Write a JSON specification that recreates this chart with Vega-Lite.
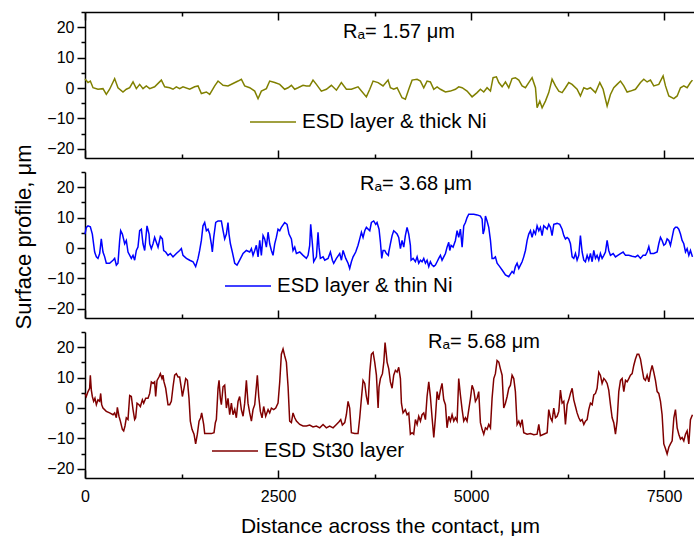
{
  "$schema": "https://vega.github.io/schema/vega-lite/v6.json",
  "autosize": {"type": "pad"},
  "padding": {"left": 12, "top": 4, "right": 0, "bottom": 0},
  "spacing": 5,
  "title": {"text": "Surface profile, μm", "orient": "left", "anchor": "middle", "fontSize": 22, "offset": -6, "baseline": "alphabetic", "frame": "bounds", "dx": 33},
  "datasets": {
    "thick": [
      {"x":0,"y":3.0},{"x":39,"y":1.8},{"x":69,"y":2.3},{"x":104,"y":0.1},{"x":168,"y":-0.4},{"x":233,"y":-0.2},{"x":276,"y":-2.1},{"x":319,"y":-0.4},{"x":384,"y":3.1},{"x":427,"y":0.1},{"x":492,"y":-1.3},{"x":535,"y":-0.4},{"x":579,"y":0.1},{"x":622,"y":2.0},{"x":665,"y":-0.2},{"x":708,"y":1.2},{"x":751,"y":-0.2},{"x":794,"y":0.7},{"x":838,"y":-0.2},{"x":902,"y":0.4},{"x":989,"y":2.6},{"x":1032,"y":0.4},{"x":1097,"y":0.1},{"x":1140,"y":-0.4},{"x":1183,"y":0.4},{"x":1226,"y":-0.2},{"x":1269,"y":0.4},{"x":1356,"y":-0.4},{"x":1420,"y":0.4},{"x":1464,"y":0.7},{"x":1507,"y":-1.8},{"x":1572,"y":-1.3},{"x":1615,"y":-2.1},{"x":1680,"y":0.7},{"x":1723,"y":2.3},{"x":1788,"y":0.9},{"x":1852,"y":0.7},{"x":1917,"y":1.5},{"x":1982,"y":2.3},{"x":2025,"y":2.9},{"x":2068,"y":0.7},{"x":2133,"y":0.1},{"x":2198,"y":-1.0},{"x":2241,"y":-3.5},{"x":2284,"y":-1.0},{"x":2349,"y":-0.2},{"x":2392,"y":2.3},{"x":2457,"y":1.8},{"x":2522,"y":1.2},{"x":2586,"y":-0.4},{"x":2630,"y":0.1},{"x":2673,"y":0.9},{"x":2716,"y":-0.4},{"x":2759,"y":0.1},{"x":2824,"y":0.9},{"x":2867,"y":0.7},{"x":2910,"y":0.7},{"x":2953,"y":2.6},{"x":2997,"y":1.2},{"x":3061,"y":-1.0},{"x":3126,"y":-0.4},{"x":3191,"y":0.9},{"x":3256,"y":-0.7},{"x":3320,"y":1.8},{"x":3385,"y":-0.4},{"x":3450,"y":-0.4},{"x":3536,"y":0.4},{"x":3580,"y":-1.0},{"x":3644,"y":-2.9},{"x":3688,"y":-0.4},{"x":3731,"y":2.3},{"x":3796,"y":1.8},{"x":3860,"y":0.7},{"x":3925,"y":2.6},
      {"x":3955,"y":0.1},{"x":3998,"y":-0.4},{"x":4042,"y":0.1},{"x":4106,"y":-3.2},{"x":4149,"y":-3.7},{"x":4193,"y":-0.4},{"x":4236,"y":2.6},{"x":4301,"y":2.9},{"x":4344,"y":2.3},{"x":4387,"y":0.1},{"x":4430,"y":2.3},{"x":4473,"y":2.0},{"x":4517,"y":-0.4},{"x":4560,"y":0.4},{"x":4603,"y":-0.4},{"x":4668,"y":-1.3},{"x":4732,"y":-1.0},{"x":4797,"y":-0.4},{"x":4840,"y":0.4},{"x":4884,"y":0.1},{"x":4948,"y":-1.0},{"x":5013,"y":-2.9},{"x":5078,"y":-1.5},{"x":5121,"y":-0.4},{"x":5164,"y":-1.3},{"x":5207,"y":0.1},{"x":5251,"y":-1.0},{"x":5285,"y":3.4},{"x":5328,"y":3.7},{"x":5359,"y":1.8},{"x":5402,"y":0.4},{"x":5445,"y":2.0},{"x":5488,"y":0.1},{"x":5531,"y":3.1},{"x":5574,"y":3.4},{"x":5618,"y":2.6},{"x":5661,"y":0.7},{"x":5704,"y":0.1},{"x":5747,"y":1.8},{"x":5790,"y":3.4},{"x":5834,"y":0.1},{"x":5855,"y":-6.5},{"x":5890,"y":-4.3},{"x":5920,"y":-6.5},{"x":5963,"y":-4.3},{"x":6006,"y":-1.5},{"x":6049,"y":2.9},{"x":6093,"y":0.7},{"x":6136,"y":-1.0},{"x":6179,"y":-1.5},{"x":6222,"y":0.1},{"x":6265,"y":1.8},{"x":6308,"y":1.2},{"x":6373,"y":-0.4},{"x":6416,"y":-2.6},{"x":6460,"y":0.1},{"x":6503,"y":-0.4},{"x":6546,"y":0.1},{"x":6611,"y":-1.5},{"x":6667,"y":1.8},{"x":6710,"y":-0.4},{"x":6762,"y":-5.9},{"x":6805,"y":-2.1},{"x":6848,"y":0.1},{"x":6891,"y":1.2},{"x":6935,"y":2.3},{"x":6978,"y":0.7},{"x":7021,"y":-1.3},{"x":7064,"y":-1.0},{"x":7129,"y":-0.4},{"x":7194,"y":1.8},{"x":7237,"y":2.9},{"x":7280,"y":2.0},{"x":7323,"y":2.6},{"x":7366,"y":0.7},{"x":7431,"y":1.2},{"x":7487,"y":4.0},{"x":7518,"y":0.7},{"x":7561,"y":-2.6},{"x":7626,"y":-3.5},{"x":7669,"y":-2.6},{"x":7712,"y":0.1},{"x":7755,"y":0.7},{"x":7798,"y":0.1},{"x":7841,"y":1.8},{"x":7867,"y":2.6}
    ],
    "thin": [
      {"x":0,"y":4.6},{"x":17,"y":6.8},{"x":39,"y":7.3},{"x":69,"y":7.0},{"x":95,"y":4.6},{"x":125,"y":-1.3},{"x":147,"y":-2.9},{"x":168,"y":-3.4},{"x":190,"y":-1.8},{"x":211,"y":3.0},{"x":233,"y":-1.3},{"x":255,"y":-2.9},{"x":276,"y":-5.0},{"x":319,"y":-5.0},{"x":363,"y":-4.0},{"x":384,"y":-3.4},{"x":406,"y":-5.6},{"x":427,"y":-5.0},{"x":449,"y":2.5},{"x":462,"y":5.7},{"x":484,"y":4.6},{"x":514,"y":1.4},{"x":535,"y":2.5},{"x":557,"y":-1.3},{"x":600,"y":-3.4},{"x":622,"y":-2.4},{"x":643,"y":-4.0},{"x":665,"y":-0.8},{"x":686,"y":0.3},{"x":708,"y":5.7},{"x":730,"y":6.2},{"x":751,"y":1.4},{"x":773,"y":-0.8},{"x":803,"y":7.3},{"x":829,"y":4.6},{"x":838,"y":1.4},{"x":859,"y":-0.2},{"x":881,"y":1.4},{"x":902,"y":3.5},{"x":924,"y":1.9},{"x":946,"y":0.3},{"x":976,"y":3.8},{"x":1002,"y":3.0},{"x":1019,"y":-0.8},{"x":1045,"y":-1.3},{"x":1075,"y":-2.4},{"x":1105,"y":-1.8},{"x":1140,"y":-2.9},{"x":1183,"y":-1.8},{"x":1226,"y":-0.8},{"x":1248,"y":-0.2},{"x":1269,"y":-2.4},{"x":1313,"y":-3.4},{"x":1356,"y":-4.0},{"x":1399,"y":-4.5},{"x":1433,"y":-6.1},{"x":1464,"y":-3.4},{"x":1485,"y":-0.8},{"x":1507,"y":2.5},{"x":1528,"y":7.3},{"x":1550,"y":8.4},{"x":1572,"y":5.7},{"x":1593,"y":6.2},{"x":1615,"y":4.6},{"x":1636,"y":1.4},{"x":1649,"y":-1.3},{"x":1667,"y":3.5},{"x":1693,"y":8.4},{"x":1723,"y":8.9},{"x":1766,"y":8.9},{"x":1788,"y":5.7},{"x":1809,"y":3.0},{"x":1831,"y":4.6},{"x":1852,"y":8.4},{"x":1865,"y":4.6},{"x":1883,"y":1.4},{"x":1908,"y":-1.3},{"x":1939,"y":-5.0},{"x":1969,"y":-5.6},{"x":2003,"y":-4.0},{"x":2047,"y":-1.8},{"x":2090,"y":-0.8},{"x":2133,"y":-1.3},{"x":2155,"y":-0.2},{"x":2176,"y":-2.4},{"x":2198,"y":-0.8},{"x":2219,"y":0.9},{"x":2241,"y":-2.9},{"x":2263,"y":2.5},{"x":2284,"y":-2.4},{"x":2306,"y":4.1},{"x":2327,"y":3.0},{"x":2349,"y":0.3},{"x":2371,"y":5.2},{"x":2392,"y":1.4},{"x":2414,"y":-0.8},{"x":2435,"y":-2.4},{"x":2457,"y":1.4},{"x":2478,"y":3.5},{"x":2500,"y":6.2},{"x":2522,"y":5.7},{"x":2543,"y":6.8},{"x":2586,"y":8.4},{"x":2617,"y":7.8},{"x":2642,"y":4.6},{"x":2673,"y":3.0},{"x":2694,"y":-0.8},{"x":2716,"y":0.3},{"x":2738,"y":-1.8},{"x":2781,"y":-1.3},{"x":2824,"y":-2.4},{"x":2867,"y":-3.4},{"x":2889,"y":-2.4},{"x":2910,"y":0.9},{"x":2923,"y":7.8},{"x":2945,"y":1.4},{"x":2962,"y":-4.5},{"x":2997,"y":-2.9},{"x":3018,"y":5.2},{"x":3031,"y":0.3},{"x":3048,"y":-3.4},{"x":3083,"y":-2.9},{"x":3105,"y":-4.0},{"x":3148,"y":-3.4},{"x":3178,"y":-1.3},{"x":3204,"y":-4.0},{"x":3221,"y":-5.0},{"x":3256,"y":-3.4},{"x":3299,"y":-1.8},{"x":3321,"y":-4.0},{"x":3342,"y":-0.8},{"x":3377,"y":-3.4},{"x":3407,"y":-5.0},{"x":3428,"y":-6.7},{"x":3450,"y":-4.5},{"x":3472,"y":-2.9},{"x":3506,"y":-1.3},{"x":3536,"y":0.9},{"x":3558,"y":3.0},{"x":3580,"y":5.2},{"x":3601,"y":3.5},{"x":3623,"y":5.7},{"x":3644,"y":6.8},{"x":3688,"y":5.7},{"x":3709,"y":8.4},{"x":3739,"y":8.9},{"x":3765,"y":7.8},{"x":3782,"y":8.4},{"x":3808,"y":6.2},{"x":3826,"y":1.9},{"x":3843,"y":-3.4},{"x":3860,"y":-0.8},{"x":3882,"y":-0.8},{"x":3903,"y":-1.8},{"x":3929,"y":-2.4},
      {"x":3934,"y":-1.3},{"x":3955,"y":1.4},{"x":3977,"y":4.1},{"x":3998,"y":5.7},{"x":4020,"y":5.2},{"x":4042,"y":4.6},{"x":4063,"y":3.5},{"x":4085,"y":-0.2},{"x":4106,"y":2.5},{"x":4128,"y":0.3},{"x":4149,"y":4.1},{"x":4171,"y":6.8},{"x":4193,"y":4.6},{"x":4214,"y":0.9},{"x":4223,"y":-4.0},{"x":4249,"y":-3.4},{"x":4279,"y":-4.5},{"x":4301,"y":-2.9},{"x":4322,"y":-5.0},{"x":4344,"y":-4.0},{"x":4365,"y":-4.5},{"x":4387,"y":-3.4},{"x":4409,"y":-5.0},{"x":4430,"y":-4.0},{"x":4452,"y":-6.1},{"x":4473,"y":-4.5},{"x":4495,"y":-5.6},{"x":4517,"y":-6.1},{"x":4538,"y":-5.6},{"x":4560,"y":-4.5},{"x":4581,"y":-3.4},{"x":4603,"y":-2.4},{"x":4624,"y":-4.0},{"x":4646,"y":-2.9},{"x":4668,"y":-1.8},{"x":4689,"y":0.3},{"x":4711,"y":1.9},{"x":4724,"y":-0.8},{"x":4741,"y":0.9},{"x":4767,"y":0.3},{"x":4797,"y":2.5},{"x":4819,"y":5.7},{"x":4840,"y":3.5},{"x":4862,"y":6.2},{"x":4884,"y":0.3},{"x":4905,"y":7.3},{"x":4927,"y":8.4},{"x":4948,"y":10.0},{"x":4970,"y":11.1},{"x":5035,"y":11.1},{"x":5078,"y":10.9},{"x":5121,"y":10.5},{"x":5143,"y":9.5},{"x":5156,"y":4.6},{"x":5173,"y":6.2},{"x":5186,"y":10.5},{"x":5207,"y":8.9},{"x":5229,"y":6.8},{"x":5251,"y":2.5},{"x":5272,"y":-3.4},{"x":5294,"y":-3.4},{"x":5315,"y":-2.9},{"x":5337,"y":-5.0},{"x":5371,"y":-6.1},{"x":5402,"y":-7.2},{"x":5445,"y":-8.8},{"x":5488,"y":-9.4},{"x":5531,"y":-7.7},{"x":5553,"y":-8.3},{"x":5574,"y":-6.1},{"x":5596,"y":-5.0},{"x":5618,"y":-6.7},{"x":5639,"y":-5.6},{"x":5661,"y":-4.5},{"x":5682,"y":-2.9},{"x":5704,"y":-0.8},{"x":5726,"y":2.5},{"x":5747,"y":4.6},{"x":5769,"y":5.7},{"x":5790,"y":3.5},{"x":5812,"y":5.7},{"x":5834,"y":4.6},{"x":5855,"y":7.3},{"x":5877,"y":5.7},{"x":5898,"y":6.8},{"x":5920,"y":4.1},{"x":5941,"y":7.3},{"x":5963,"y":6.8},{"x":5985,"y":6.2},{"x":6006,"y":7.8},{"x":6028,"y":6.8},{"x":6049,"y":4.1},{"x":6071,"y":7.8},{"x":6114,"y":8.1},{"x":6149,"y":7.8},{"x":6179,"y":6.2},{"x":6201,"y":4.1},{"x":6222,"y":3.0},{"x":6244,"y":3.5},{"x":6265,"y":3.0},{"x":6287,"y":1.4},{"x":6309,"y":-2.9},{"x":6330,"y":-3.4},{"x":6352,"y":-1.8},{"x":6373,"y":-4.0},{"x":6395,"y":-2.4},{"x":6416,"y":4.1},{"x":6438,"y":-1.3},{"x":6460,"y":-4.0},{"x":6481,"y":-4.5},{"x":6503,"y":-2.4},{"x":6524,"y":-4.0},{"x":6546,"y":-1.8},{"x":6568,"y":-4.5},{"x":6589,"y":-0.8},{"x":6611,"y":-3.4},{"x":6632,"y":-2.4},{"x":6654,"y":-4.0},{"x":6675,"y":-1.8},{"x":6697,"y":-3.4},{"x":6719,"y":-2.4},{"x":6740,"y":-1.3},{"x":6762,"y":2.5},{"x":6783,"y":-0.8},{"x":6805,"y":-2.4},{"x":6840,"y":-1.8},{"x":6870,"y":-2.9},{"x":6900,"y":-2.4},{"x":6935,"y":-1.8},{"x":6969,"y":-1.3},{"x":7000,"y":-2.4},{"x":7043,"y":-2.4},{"x":7086,"y":-2.7},{"x":7129,"y":-2.9},{"x":7159,"y":-2.4},{"x":7194,"y":-3.4},{"x":7228,"y":-2.4},{"x":7258,"y":-2.4},{"x":7280,"y":-1.3},{"x":7302,"y":0.5},{"x":7323,"y":-1.8},{"x":7366,"y":-1.8},{"x":7410,"y":-1.3},{"x":7431,"y":1.4},{"x":7453,"y":3.5},{"x":7474,"y":2.5},{"x":7496,"y":0.9},{"x":7518,"y":1.4},{"x":7539,"y":3.0},{"x":7561,"y":2.5},{"x":7582,"y":0.9},{"x":7604,"y":3.5},{"x":7626,"y":6.2},{"x":7647,"y":6.8},{"x":7669,"y":6.8},{"x":7690,"y":6.2},{"x":7712,"y":4.6},{"x":7733,"y":2.5},{"x":7755,"y":1.4},{"x":7777,"y":-1.3},{"x":7798,"y":-0.2},{"x":7820,"y":-2.4},{"x":7841,"y":-0.8},{"x":7867,"y":-2.9}
    ],
    "st30": [
      {"x":0,"y":4.8},{"x":17,"y":3.8},{"x":39,"y":5.4},{"x":60,"y":6.5},{"x":69,"y":10.8},{"x":82,"y":5.9},{"x":95,"y":3.8},{"x":112,"y":2.2},{"x":129,"y":3.2},{"x":147,"y":1.1},{"x":168,"y":2.7},{"x":190,"y":2.2},{"x":203,"y":4.8},{"x":216,"y":1.1},{"x":233,"y":0.0},{"x":276,"y":-1.1},{"x":319,"y":-1.6},{"x":363,"y":-2.2},{"x":384,"y":-1.6},{"x":406,"y":-3.2},{"x":419,"y":0.2},{"x":440,"y":-2.7},{"x":458,"y":-4.3},{"x":484,"y":-7.0},{"x":501,"y":-7.5},{"x":518,"y":-5.9},{"x":535,"y":-3.2},{"x":557,"y":-3.8},{"x":579,"y":4.1},{"x":600,"y":3.8},{"x":622,"y":-0.5},{"x":643,"y":-3.8},{"x":656,"y":-3.2},{"x":674,"y":1.6},{"x":699,"y":1.1},{"x":717,"y":0.5},{"x":743,"y":2.7},{"x":760,"y":1.6},{"x":786,"y":3.2},{"x":816,"y":3.2},{"x":838,"y":4.8},{"x":859,"y":8.6},{"x":881,"y":8.1},{"x":902,"y":8.6},{"x":915,"y":3.8},{"x":933,"y":9.1},{"x":958,"y":10.2},{"x":976,"y":11.3},{"x":997,"y":9.7},{"x":1010,"y":10.8},{"x":1023,"y":8.6},{"x":1045,"y":6.5},{"x":1075,"y":1.1},{"x":1097,"y":1.1},{"x":1118,"y":2.2},{"x":1140,"y":7.0},{"x":1161,"y":10.8},{"x":1183,"y":11.3},{"x":1205,"y":10.2},{"x":1226,"y":10.2},{"x":1248,"y":6.5},{"x":1261,"y":3.8},{"x":1282,"y":6.5},{"x":1304,"y":9.7},{"x":1326,"y":9.1},{"x":1347,"y":3.2},{"x":1364,"y":-4.3},{"x":1386,"y":-7.0},{"x":1412,"y":-8.6},{"x":1433,"y":-11.8},{"x":1455,"y":-8.6},{"x":1477,"y":-4.3},{"x":1498,"y":-3.2},{"x":1511,"y":-1.6},{"x":1537,"y":-5.4},{"x":1550,"y":-8.4},{"x":1593,"y":-8.4},{"x":1636,"y":-8.4},{"x":1671,"y":-8.1},{"x":1688,"y":-4.8},{"x":1701,"y":-3.8},{"x":1723,"y":6.5},{"x":1736,"y":9.1},{"x":1753,"y":3.2},{"x":1766,"y":1.1},{"x":1788,"y":7.0},{"x":1809,"y":7.5},{"x":1831,"y":0.0},{"x":1852,"y":3.2},{"x":1874,"y":-2.2},{"x":1896,"y":1.6},{"x":1917,"y":-2.2},{"x":1939,"y":-0.5},{"x":1960,"y":-3.2},{"x":1982,"y":2.2},{"x":2003,"y":3.8},{"x":2025,"y":-0.5},{"x":2047,"y":-2.7},{"x":2068,"y":1.6},{"x":2090,"y":9.1},{"x":2111,"y":1.6},{"x":2133,"y":-1.6},{"x":2155,"y":-4.3},{"x":2176,"y":-0.5},{"x":2198,"y":1.1},{"x":2219,"y":7.0},{"x":2232,"y":10.8},{"x":2250,"y":3.8},{"x":2271,"y":-1.1},{"x":2293,"y":-3.2},{"x":2314,"y":0.5},{"x":2340,"y":-2.7},{"x":2371,"y":-0.5},{"x":2392,"y":-1.6},{"x":2414,"y":0.0},{"x":2444,"y":-0.5},{"x":2470,"y":0.0},{"x":2500,"y":1.6},{"x":2522,"y":8.6},{"x":2543,"y":17.7},{"x":2565,"y":19.4},{"x":2586,"y":17.2},{"x":2608,"y":15.1},{"x":2630,"y":7.0},{"x":2651,"y":-4.3},{"x":2673,"y":-4.8},{"x":2694,"y":-1.6},{"x":2716,"y":-3.2},{"x":2738,"y":-4.3},{"x":2781,"y":-5.4},{"x":2824,"y":-5.9},{"x":2867,"y":-5.9},{"x":2910,"y":-5.6},{"x":2953,"y":-6.2},{"x":2997,"y":-5.9},{"x":3040,"y":-6.5},{"x":3083,"y":-5.4},{"x":3126,"y":-6.5},{"x":3169,"y":-5.9},{"x":3213,"y":-6.5},{"x":3256,"y":-5.4},{"x":3290,"y":-4.5},{"x":3312,"y":-3.8},{"x":3333,"y":-5.6},{"x":3364,"y":-4.8},{"x":3385,"y":-2.2},{"x":3407,"y":2.2},{"x":3428,"y":0.0},{"x":3450,"y":-8.1},{"x":3493,"y":-8.4},{"x":3536,"y":-8.4},{"x":3558,"y":-3.2},{"x":3580,"y":3.2},{"x":3601,"y":9.1},{"x":3623,"y":8.1},{"x":3644,"y":3.8},{"x":3666,"y":1.1},{"x":3688,"y":11.8},{"x":3709,"y":17.7},{"x":3731,"y":18.3},{"x":3752,"y":15.1},{"x":3774,"y":10.8},{"x":3796,"y":0.0},{"x":3808,"y":7.0},{"x":3826,"y":9.7},{"x":3852,"y":11.3},{"x":3870,"y":15.1},{"x":3886,"y":21.5},{"x":3903,"y":17.5},{"x":3912,"y":15.1},
      {"x":3934,"y":12.9},{"x":3955,"y":8.6},{"x":3977,"y":6.5},{"x":3998,"y":10.8},{"x":4020,"y":12.4},{"x":4042,"y":11.8},{"x":4063,"y":13.4},{"x":4085,"y":9.7},{"x":4098,"y":1.6},{"x":4119,"y":-1.6},{"x":4149,"y":-0.5},{"x":4171,"y":-2.2},{"x":4193,"y":-1.6},{"x":4214,"y":-8.6},{"x":4236,"y":-8.1},{"x":4257,"y":-8.6},{"x":4279,"y":-3.8},{"x":4301,"y":-5.4},{"x":4322,"y":-2.7},{"x":4344,"y":-4.3},{"x":4365,"y":-2.2},{"x":4387,"y":-1.6},{"x":4409,"y":-3.8},{"x":4430,"y":3.8},{"x":4452,"y":8.6},{"x":4473,"y":3.8},{"x":4495,"y":-3.2},{"x":4517,"y":-9.7},{"x":4538,"y":-3.2},{"x":4560,"y":5.4},{"x":4581,"y":2.7},{"x":4603,"y":5.9},{"x":4624,"y":8.1},{"x":4646,"y":2.7},{"x":4668,"y":1.1},{"x":4689,"y":-6.5},{"x":4711,"y":-2.7},{"x":4732,"y":-4.3},{"x":4754,"y":-2.2},{"x":4776,"y":-4.3},{"x":4797,"y":-3.2},{"x":4819,"y":-4.3},{"x":4840,"y":9.7},{"x":4862,"y":4.3},{"x":4884,"y":-0.5},{"x":4905,"y":-4.3},{"x":4927,"y":-3.2},{"x":4948,"y":-4.3},{"x":4970,"y":-0.5},{"x":4992,"y":3.2},{"x":5013,"y":7.5},{"x":5035,"y":5.9},{"x":5056,"y":2.2},{"x":5078,"y":3.2},{"x":5099,"y":5.4},{"x":5121,"y":-4.8},{"x":5143,"y":-7.0},{"x":5164,"y":-8.6},{"x":5186,"y":-6.5},{"x":5207,"y":-7.0},{"x":5229,"y":-5.4},{"x":5251,"y":-6.5},{"x":5272,"y":3.2},{"x":5294,"y":9.7},{"x":5315,"y":11.3},{"x":5337,"y":15.6},{"x":5359,"y":15.1},{"x":5380,"y":12.9},{"x":5402,"y":10.8},{"x":5423,"y":0.0},{"x":5445,"y":1.6},{"x":5467,"y":3.8},{"x":5488,"y":6.5},{"x":5510,"y":7.5},{"x":5531,"y":10.8},{"x":5553,"y":9.7},{"x":5574,"y":5.4},{"x":5596,"y":-5.4},{"x":5618,"y":-4.3},{"x":5639,"y":-5.9},{"x":5661,"y":-3.8},{"x":5682,"y":-8.1},{"x":5726,"y":-8.6},{"x":5769,"y":-8.4},{"x":5812,"y":-8.8},{"x":5855,"y":-8.6},{"x":5877,"y":-5.4},{"x":5898,"y":-9.1},{"x":5941,"y":-8.6},{"x":5985,"y":-8.1},{"x":6006,"y":-0.5},{"x":6028,"y":-3.2},{"x":6049,"y":-4.3},{"x":6071,"y":0.0},{"x":6093,"y":-3.2},{"x":6114,"y":-2.7},{"x":6136,"y":-1.1},{"x":6157,"y":5.9},{"x":6179,"y":1.6},{"x":6201,"y":2.2},{"x":6222,"y":-5.4},{"x":6244,"y":1.1},{"x":6265,"y":2.7},{"x":6287,"y":4.8},{"x":6309,"y":6.5},{"x":6330,"y":2.7},{"x":6352,"y":0.5},{"x":6373,"y":-1.6},{"x":6395,"y":-3.2},{"x":6416,"y":-4.3},{"x":6438,"y":-3.8},{"x":6460,"y":-5.4},{"x":6481,"y":-4.3},{"x":6503,"y":-3.8},{"x":6524,"y":-0.5},{"x":6546,"y":1.6},{"x":6568,"y":1.1},{"x":6589,"y":4.3},{"x":6611,"y":4.8},{"x":6632,"y":6.5},{"x":6654,"y":11.8},{"x":6675,"y":10.8},{"x":6697,"y":8.1},{"x":6719,"y":9.7},{"x":6740,"y":9.1},{"x":6762,"y":8.1},{"x":6783,"y":5.9},{"x":6805,"y":1.1},{"x":6827,"y":-3.2},{"x":6848,"y":-4.8},{"x":6870,"y":-8.6},{"x":6891,"y":-4.3},{"x":6913,"y":5.4},{"x":6935,"y":9.1},{"x":6956,"y":9.7},{"x":6978,"y":5.4},{"x":7000,"y":9.1},{"x":7021,"y":8.6},{"x":7043,"y":9.7},{"x":7064,"y":10.8},{"x":7086,"y":11.3},{"x":7107,"y":14.0},{"x":7129,"y":16.1},{"x":7151,"y":17.7},{"x":7172,"y":17.7},{"x":7194,"y":16.1},{"x":7215,"y":12.9},{"x":7237,"y":9.7},{"x":7258,"y":9.1},{"x":7280,"y":10.8},{"x":7302,"y":8.6},{"x":7323,"y":11.8},{"x":7345,"y":14.0},{"x":7366,"y":11.8},{"x":7388,"y":9.1},{"x":7410,"y":5.4},{"x":7431,"y":4.8},{"x":7453,"y":2.2},{"x":7474,"y":-2.2},{"x":7496,"y":-11.8},{"x":7518,"y":-13.4},{"x":7539,"y":-15.1},{"x":7561,"y":-12.9},{"x":7582,"y":-11.8},{"x":7604,"y":-10.8},{"x":7626,"y":-3.2},{"x":7647,"y":-0.5},{"x":7669,"y":-6.5},{"x":7690,"y":-8.6},{"x":7712,"y":-10.2},{"x":7733,"y":-9.7},{"x":7755,"y":-10.8},{"x":7777,"y":-8.6},{"x":7798,"y":-7.5},{"x":7820,"y":-11.8},{"x":7841,"y":-3.8},{"x":7867,"y":-2.2}
    ]
  },
  "vconcat": [
    {
      "width": 610,
      "height": 146,
      "title": {"text": "Rₐ= 1.57 μm", "offset": -38, "dx": 9},
      "data": {"name": "thick"},
      "layer": [
        {
          "mark": {"type": "line", "strokeWidth": 1.5},
          "encoding": {
            "x": {"field": "x", "type": "quantitative", "scale": {"domain": [0, 7900], "nice": false, "zero": false},
                  "axis": {"values": [0, 1250, 2500, 3750, 5000, 6250, 7500], "tickSize": {"condition": {"test": "datum.value % 2500 === 0", "value": -8}, "value": -4}, "labels": false, "title": null}},
            "y": {"field": "y", "type": "quantitative", "scale": {"domain": [-23, 25], "nice": false, "zero": false},
                  "axis": {"values": [-20, -15, -10, -5, 0, 5, 10, 15, 20, 25], "tickSize": {"condition": {"test": "datum.value % 10 === 0", "value": 8}, "value": 4}, "labelExpr": "datum.value % 10 === 0 ? datum.label : ''", "labelPadding": 3, "title": null}},
            "color": {"datum": "ESD layer & thick Ni", "scale": {"range": ["#808000"]}, "legend": {"legendX": 164, "legendY": 86}}
          }
        },
        {
          "mark": {"type": "line", "opacity": 0},
          "encoding": {
            "x": {"field": "x", "type": "quantitative",
                  "axis": {"orient": "top", "values": [0, 1250, 2500, 3750, 5000, 6250, 7500], "tickSize": {"condition": {"test": "datum.value % 2500 === 0", "value": -8}, "value": -4}, "labels": false, "title": null}},
            "y": {"field": "y", "type": "quantitative",
                  "axis": {"values": [-20, -15, -10, -5, 0, 5, 10, 15, 20, 25], "tickSize": {"condition": {"test": "datum.value % 10 === 0", "value": 8}, "value": 4}, "labelExpr": "datum.value % 10 === 0 ? datum.label : ''", "labelPadding": 3, "title": null}}
          }
        }
      ],
      "resolve": {"axis": {"x": "independent"}}
    },
    {
      "width": 610,
      "height": 146,
      "title": {"text": "Rₐ= 3.68 μm", "offset": -30, "dx": 26},
      "data": {"name": "thin"},
      "mark": {"type": "line", "strokeWidth": 1.5},
      "encoding": {
        "x": {"field": "x", "type": "quantitative", "scale": {"domain": [0, 7900], "nice": false, "zero": false},
              "axis": {"values": [0, 1250, 2500, 3750, 5000, 6250, 7500], "tickSize": {"condition": {"test": "datum.value % 2500 === 0", "value": -8}, "value": -4}, "labels": false, "title": null}},
        "y": {"field": "y", "type": "quantitative", "scale": {"domain": [-23, 25], "nice": false, "zero": false},
              "axis": {"values": [-20, -15, -10, -5, 0, 5, 10, 15, 20, 25], "tickSize": {"condition": {"test": "datum.value % 10 === 0", "value": 8}, "value": 4}, "labelExpr": "datum.value % 10 === 0 ? datum.label : ''", "labelPadding": 3, "title": null}},
        "color": {"datum": "ESD layer & thin Ni", "scale": {"range": ["#0000ff"]}, "legend": {"legendX": 139, "legendY": 90}}
      }
    },
    {
      "width": 610,
      "height": 146,
      "title": {"text": "Rₐ= 5.68 μm", "offset": -28, "dx": 94},
      "data": {"name": "st30"},
      "mark": {"type": "line", "strokeWidth": 1.5},
      "encoding": {
        "x": {"field": "x", "type": "quantitative", "scale": {"domain": [0, 7900], "nice": false, "zero": false},
              "axis": {"values": [0, 1250, 2500, 3750, 5000, 6250, 7500], "tickSize": {"condition": {"test": "datum.value % 2500 === 0", "value": -8}, "value": -4}, "labelExpr": "datum.value % 2500 === 0 ? datum.label : ''", "format": "d", "labelPadding": 18, "title": "Distance across the contact, μm", "titleFontSize": 21, "titlePadding": 7}},
        "y": {"field": "y", "type": "quantitative", "scale": {"domain": [-23, 25], "nice": false, "zero": false},
              "axis": {"values": [-20, -15, -10, -5, 0, 5, 10, 15, 20, 25], "tickSize": {"condition": {"test": "datum.value % 10 === 0", "value": 8}, "value": 4}, "labelExpr": "datum.value % 10 === 0 ? datum.label : ''", "labelPadding": 3, "title": null}},
        "color": {"datum": "ESD St30 layer", "scale": {"range": ["#800000"]}, "legend": {"legendX": 126, "legendY": 95}}
      }
    }
  ],
  "resolve": {"scale": {"color": "independent"}, "legend": {"color": "independent"}},
  "config": {
    "font": "Liberation Sans",
    "view": {"stroke": null},
    "axis": {"domainColor": "black", "domainWidth": 1.5, "tickColor": "black", "tickWidth": 1.5, "labelColor": "black", "labelFontSize": 16, "labelFont": "Liberation Sans", "titleColor": "black", "titleFont": "Liberation Sans", "titleFontWeight": "normal", "grid": false, "labelFlush": false, "labelOverlap": false},
    "legend": {"orient": "none", "symbolType": "stroke", "symbolSize": 2116, "symbolStrokeWidth": 1.5, "labelFontSize": 20.5, "labelFont": "Liberation Sans", "labelColor": "black", "labelOffset": 5, "labelLimit": 0, "title": null, "padding": 0},
    "title": {"fontSize": 20, "fontWeight": "normal", "font": "Liberation Sans", "color": "black", "anchor": "middle", "baseline": "alphabetic", "frame": "group"}
  }
}
